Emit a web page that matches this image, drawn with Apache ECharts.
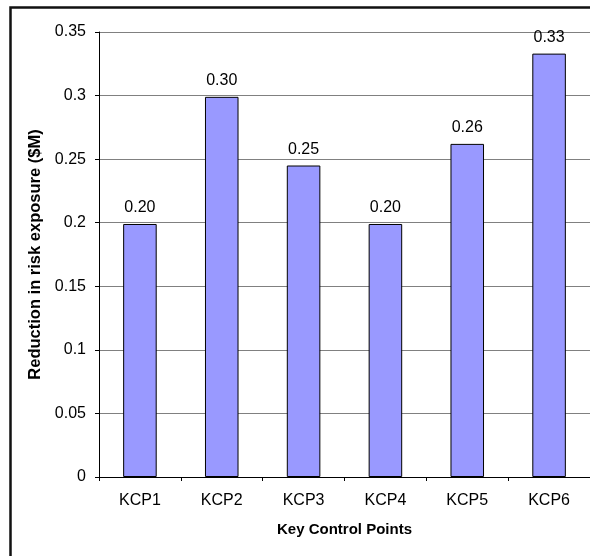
<!DOCTYPE html>
<html>
<head>
<meta charset="utf-8">
<script src="https://cdn.jsdelivr.net/npm/echarts@6/dist/echarts.min.js"></script>
<style>
  html, body { margin: 0; padding: 0; background: #fff; }
  #chart { width: 590px; height: 556px; }
</style>
</head>
<body>
<div id="chart"></div>
<script>
// 各控制點資料
var categories = ['KCP1', 'KCP2', 'KCP3', 'KCP4', 'KCP5', 'KCP6'];
var reduction = [0.199, 0.299, 0.245, 0.199, 0.262, 0.333];
var yTicks = [0, 0.05, 0.1, 0.15, 0.2, 0.25, 0.3, 0.35];

var myChart = echarts.init(document.getElementById('chart'));
myChart.setOption({
  backgroundColor: '#fff',
  animation: false,
  textStyle: { fontFamily: 'Liberation Sans, Arial, sans-serif' },
  // 外框
  graphic: [{
    type: 'rect',
    left: 8, top: 5,
    shape: { width: 640, height: 640 },
    style: { fill: 'none', stroke: '#111', lineWidth: 2.5 },
    silent: true
  }],
  grid: {
    left: 99,
    right: -1,
    top: 32,
    bottom: 79
  },
  xAxis: {
    type: 'category',
    data: categories,
    name: 'Key Control Points',
    nameLocation: 'middle',
    nameGap: 45,
    nameTextStyle: { fontSize: 15, fontWeight: 'bold', color: '#000' },
    axisLine: { lineStyle: { color: '#000', width: 1 } },
    axisTick: { show: true, length: 4, lineStyle: { color: '#000' } },
    axisLabel: { fontSize: 16, color: '#000', margin: 16 }
  },
  yAxis: {
    type: 'value',
    min: yTicks[0],
    max: yTicks[yTicks.length - 1],
    interval: 0.05,
    name: 'Reduction in risk exposure ($M)',
    nameLocation: 'middle',
    nameGap: 52,
    nameTextStyle: { fontSize: 16.5, fontWeight: 'bold', color: '#000' },
    axisLine: { show: true, lineStyle: { color: '#000', width: 1 } },
    axisTick: { show: true, length: 4, lineStyle: { color: '#000' } },
    axisLabel: {
      fontSize: 16, color: '#000', margin: 13,
      formatter: function (v) { return String(Math.round(v * 100) / 100); }
    },
    splitLine: { show: true, lineStyle: { color: '#808080', width: 1 } }
  },
  series: [{
    type: 'bar',
    data: reduction,
    barWidth: '41%',
    itemStyle: { color: '#9999FF', borderColor: '#000', borderWidth: 1 },
    label: {
      show: true,
      position: 'top',
      distance: 8,
      fontSize: 16,
      color: '#000',
      formatter: function (p) { return (Math.round(p.value * 100) / 100).toFixed(2); }
    }
  }]
});
</script>
</body>
</html>
